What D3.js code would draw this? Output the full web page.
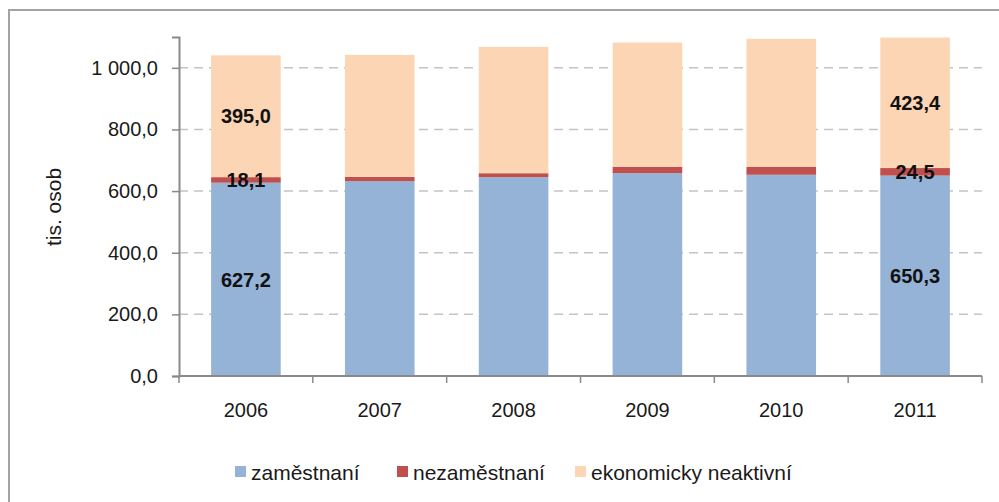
<!DOCTYPE html>
<html>
<head>
<meta charset="utf-8">
<script src="https://cdn.jsdelivr.net/npm/d3@7"></script>
<style>
  body { margin: 0; background: #fff; }
  text { font-family: "Liberation Sans", Arial, sans-serif; }
</style>
</head>
<body>
<script>
// hodnoty (tis. osob)
var years = ['2006', '2007', '2008', '2009', '2010', '2011'];
var zamestnani = [627.2, 632, 645, 658, 653, 650.3];
var nezamestnani = [18.1, 14, 13, 21, 26, 24.5];
var neaktivni = [395.0, 396, 410, 403, 415, 423.4];
var seriesNames = ['zaměstnaní', 'nezaměstnaní', 'ekonomicky neaktivní'];
var seriesColors = ['#95b3d7', '#c0504d', '#fcd5b5'];
var labelYears = ['2006', '2011'];
var yTicks = [0, 200, 400, 600, 800, 1000];

const width = 999, height = 502;
const margin = { top: 37, left: 179, right: 17, bottom: 126 };

var svg = d3.select('body').append('svg')
  .attr('width', width)
  .attr('height', height);

// rámeček grafu
svg.append('rect')
  .attr('x', 9).attr('y', 10)
  .attr('width', 1010).attr('height', 520)
  .attr('fill', 'none')
  .attr('stroke', '#a3a3a3')
  .attr('stroke-width', 2);

var rows = years.map(function(y, i) {
  return { year: y, z: zamestnani[i], n: nezamestnani[i], e: neaktivni[i] };
});
var stack = d3.stack().keys(['z', 'n', 'e'])(rows);

var x = d3.scaleBand()
  .domain(years)
  .range([margin.left, width - margin.right])
  .paddingInner(0.48)
  .paddingOuter(0.24);

var y = d3.scaleLinear()
  .domain([0, 1100])
  .range([height - margin.bottom, margin.top]);

var fmt = d3.formatLocale({ decimal: ',', thousands: '\u00a0', grouping: [3], currency: ['', ''] }).format(',.1f');

// mřížka
svg.append('g')
  .selectAll('line')
  .data(yTicks.slice(1))
  .enter().append('line')
  .attr('x1', margin.left).attr('x2', width - margin.right)
  .attr('y1', d => y(d)).attr('y2', d => y(d))
  .attr('stroke', '#c4c4c4')
  .attr('stroke-width', 1.5)
  .attr('stroke-dasharray', '9,6');

// sloupce
svg.append('g')
  .selectAll('g')
  .data(stack)
  .enter().append('g')
  .attr('fill', (d, i) => seriesColors[i])
  .selectAll('rect')
  .data(d => d)
  .enter().append('rect')
  .attr('x', d => x(d.data.year))
  .attr('width', x.bandwidth())
  .attr('y', d => y(d[1]))
  .attr('height', d => y(d[0]) - y(d[1]));

// popisky hodnot
stack.forEach(function(s) {
  svg.append('g')
    .selectAll('text')
    .data(s.filter(d => labelYears.indexOf(d.data.year) >= 0))
    .enter().append('text')
    .attr('x', d => x(d.data.year) + x.bandwidth() / 2)
    .attr('y', d => (y(d[0]) + y(d[1])) / 2)
    .attr('dy', '0.36em')
    .attr('text-anchor', 'middle')
    .attr('font-size', 20)
    .attr('font-weight', 'bold')
    .attr('fill', '#111')
    .text(d => fmt(d[1] - d[0]));
});

// osa y
var yAxis = svg.append('g')
  .attr('transform', 'translate(' + margin.left + ',0)')
  .call(d3.axisLeft(y).tickValues(yTicks).tickFormat(fmt).tickSize(7).tickPadding(14));
yAxis.select('.domain').attr('stroke', '#8a8a8a').attr('stroke-width', 2);
yAxis.selectAll('.tick line').attr('stroke', '#8a8a8a').attr('stroke-width', 1.5);
yAxis.selectAll('text').attr('font-size', 20).attr('fill', '#1a1a1a')
  .attr('font-family', '"Liberation Sans", Arial, sans-serif');

// osa x
var xb = height - margin.bottom;
var xg = svg.append('g');
xg.append('line')
  .attr('x1', margin.left).attr('x2', width - margin.right)
  .attr('y1', xb).attr('y2', xb)
  .attr('stroke', '#8a8a8a').attr('stroke-width', 2);
var bounds = years.map(d => x(d) - x.step() * x.paddingInner() / 2).concat([width - margin.right]);
xg.selectAll('.xt')
  .data(bounds)
  .enter().append('line')
  .attr('x1', d => d).attr('x2', d => d)
  .attr('y1', xb).attr('y2', xb + 7)
  .attr('stroke', '#8a8a8a').attr('stroke-width', 1.5);
xg.selectAll('text')
  .data(years)
  .enter().append('text')
  .attr('x', d => x(d) + x.bandwidth() / 2)
  .attr('y', xb + 34)
  .attr('dy', '0.36em')
  .attr('text-anchor', 'middle')
  .attr('font-size', 20)
  .attr('fill', '#1a1a1a')
  .text(d => d);

// název osy y
svg.append('text')
  .attr('transform', 'translate(61,207) rotate(-90)')
  .attr('text-anchor', 'middle')
  .attr('font-size', 21)
  .attr('fill', '#1a1a1a')
  .text('tis. osob');

// legenda
var legX = [235, 397, 575];
var leg = svg.append('g')
  .selectAll('g')
  .data(seriesNames)
  .enter().append('g')
  .attr('transform', (d, i) => 'translate(' + legX[i] + ',472)');
leg.append('rect')
  .attr('x', 0).attr('y', -6)
  .attr('width', 11).attr('height', 11)
  .attr('fill', (d, i) => seriesColors[i]);
leg.append('text')
  .attr('x', 16)
  .attr('dy', '0.36em')
  .attr('font-size', 21)
  .attr('fill', '#1a1a1a')
  .text(d => d);
</script>
</body>
</html>
